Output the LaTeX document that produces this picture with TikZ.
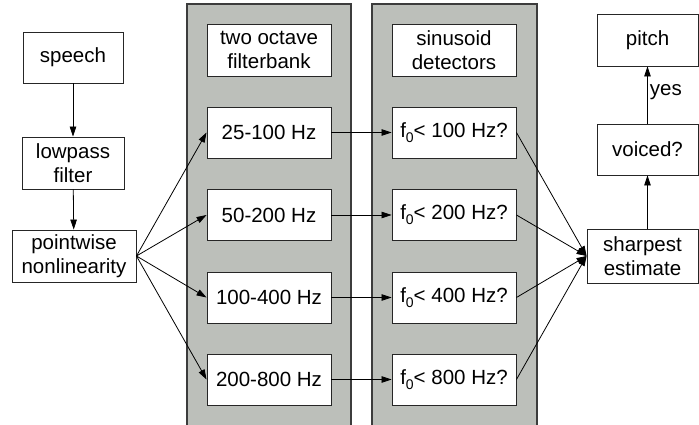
\documentclass[tikz,border=0pt]{standalone}
\usepackage{fontspec}
\setmainfont{Liberation Sans}
\usetikzlibrary{arrows.meta}
\definecolor{panelgray}{RGB}{188,191,186}
\definecolor{edgegray}{RGB}{60,60,60}
\begin{document}
\begin{tikzpicture}[x=1pt,y=1pt,
  box/.style={draw=black!85, line width=0.9pt, fill=white, inner sep=0pt, align=center,
    font=\fontsize{20.5}{24}\selectfont},
  arr/.style={-{Triangle[length=10pt,width=6.5pt]}, line width=0.8pt, black},
  panel/.style={fill=panelgray},
  lbl/.style={font=\fontsize{20.5}{24}\selectfont, inner sep=2pt}]
\newcommand{\fsub}{f\raisebox{-0.45ex}{\fontsize{14}{14}\selectfont 0}}
\useasboundingbox (0,0) rectangle (699,425);
% panels
\fill[panel] (187,0) rectangle (351,421);
\draw[edgegray, line width=1.2pt] (187,0) |- (351,421) -- (351,0);
\fill[panel] (372,0) rectangle (537,421);
\draw[edgegray, line width=1.2pt] (372,0) |- (537,421) -- (537,0);
% left column
\node[box, minimum width=100pt, minimum height=51pt] (sp) at (73,367.5) {speech};
\node[box, minimum width=102pt, minimum height=52pt] (lp) at (73,262) {lowpass\\filter};
\node[box, minimum width=124pt, minimum height=52pt] (pn) at (74,169) {pointwise\\nonlinearity};
% filterbank
\node[box, minimum width=124pt, minimum height=52pt] (fb) at (269,375) {two octave\\filterbank};
\node[box, minimum width=124pt, minimum height=51pt] (b1) at (269,292.5) {25-100 Hz};
\node[box, minimum width=124pt, minimum height=51pt] (b2) at (269,210) {50-200 Hz};
\node[box, minimum width=124pt, minimum height=51pt] (b3) at (269,127.5) {100-400 Hz};
\node[box, minimum width=124pt, minimum height=51pt] (b4) at (269,45.5) {200-800 Hz};
% detectors
\node[box, minimum width=124pt, minimum height=52pt] (sd) at (454,375) {sinusoid\\detectors};
\node[box, minimum width=124pt, minimum height=51pt] (d1) at (454,292.5) {\fsub< 100 Hz?};
\node[box, minimum width=124pt, minimum height=51pt] (d2) at (454,210) {\fsub< 200 Hz?};
\node[box, minimum width=124pt, minimum height=51pt] (d3) at (454,127.5) {\fsub< 400 Hz?};
\node[box, minimum width=124pt, minimum height=51pt] (d4) at (454,45.5) {\fsub< 800 Hz?};
% right column
\node[box, minimum width=101pt, minimum height=52pt] (pi) at (647.5,385) {pitch};
\node[box, minimum width=101pt, minimum height=51pt] (vo) at (647.5,275.5) {voiced?};
\node[box, minimum width=111pt, minimum height=54pt] (se) at (642.5,169) {sharpest\\estimate};
% connectors
\draw[arr] (sp) -- (lp);
\draw[arr] (lp) -- (pn);
\foreach \b in {b1,b2,b3,b4} \draw[arr] (pn.east) -- (\b.west);
\draw[arr] (b1) -- (d1);
\draw[arr] (b2) -- (d2);
\draw[arr] (b3) -- (d3);
\draw[arr] (b4) -- (d4);
\foreach \d in {d1,d2,d3,d4} \draw[arr] (\d.east) -- (se.west);
\draw[arr] (se.north -| vo.south) -- (vo.south);
\draw[arr] (vo) -- node[lbl, right, pos=0.55] (yes) {yes} (pi);
\end{tikzpicture}
\end{document}
